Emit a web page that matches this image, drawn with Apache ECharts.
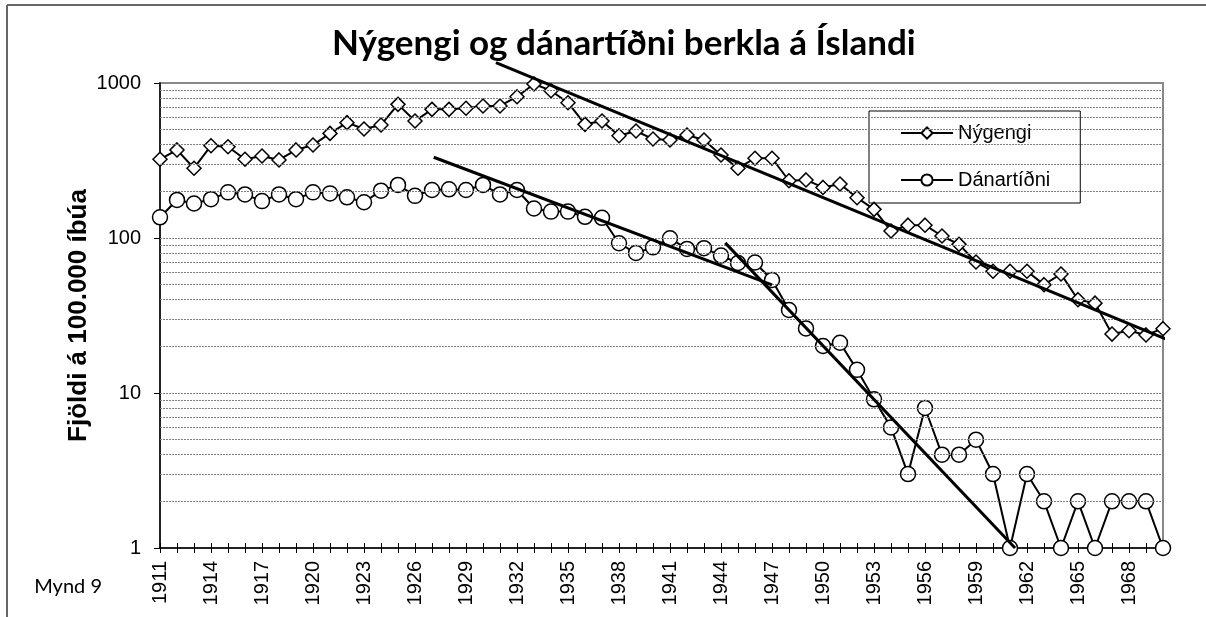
<!DOCTYPE html>
<html>
<head>
<meta charset="utf-8">
<script src="https://cdn.jsdelivr.net/npm/echarts@6/dist/echarts.min.js"></script>
<style>
  html, body { margin: 0; padding: 0; background: #fff; }
  #chart { width: 1206px; height: 617px; }
</style>
</head>
<body>
<div id="chart"></div>
<script>
// ár (flokkar)
var years = [1911,1912,1913,1914,1915,1916,1917,1918,1919,1920,
             1921,1922,1923,1924,1925,1926,1927,1928,1929,1930,
             1931,1932,1933,1934,1935,1936,1937,1938,1939,1940,
             1941,1942,1943,1944,1945,1946,1947,1948,1949,1950,
             1951,1952,1953,1954,1955,1956,1957,1958,1959,1960,
             1961,1962,1963,1964,1965,1966,1967,1968,1969,1970];

// Nýgengi á 100.000 íbúa
var nygengi = [322,370,282,394,388,322,338,319,370,398,
               473,555,505,536,728,569,676,676,687,711,
               711,816,985,892,746,541,569,457,490,435,
               429,462,429,343,282,327,327,234,237,212,
               223,182,153,111,121,121,103,91,70,61,
               61,61,50,58.6,40,38,24,25.2,23.7,26];

// Dánartíðni á 100.000 íbúa
var danartidni = [136,176,167,178,197,191,173,191,178,197,
                  194,183,170,202,220,187,204,206,204,220,
                  191,204,155,148,148,137,135,92.5,80,87,
                  99.5,85,86,77,69,69.5,53.6,34.3,26.1,20.1,
                  21.1,14.1,9.1,6,3,8,4,4,5,3,
                  1,3,2,1,2,1,2,2,2,1];

// leitnilínur (upphaf, endir)
var trendNygengi = [[1930.76, 1352], [1970.3, 22]];
var trendDanar1 = [[1927.1, 332], [1947.0, 49.8]];
var trendDanar2 = [[1944.25, 93], [1961.3, 1]];

// merkt ár á x-ás
var xTickYears = [1911,1914,1917,1920,1923,1926,1929,1932,1935,1938,
                  1941,1944,1947,1950,1953,1956,1959,1962,1965,1968];

var yMin = 1, yMax = 1000;

var gridValues = [];
[1, 10, 100].forEach(function (d) {
  for (var k = 2; k <= 10; k++) {
    if (k * d < yMax) gridValues.push(k * d);
  }
});

function pairs(xs, ys) {
  return xs.map(function (x, i) { return [x, ys[i]]; });
}

var font = '"Liberation Sans", Arial, sans-serif';

var chart = echarts.init(document.getElementById('chart'));
var option = {
  animation: false,
  backgroundColor: '#fff',
  title: {
    text: 'Nýgengi og dánartíðni berkla á Íslandi',
    left: 327,
    top: 21,
    textStyle: { fontFamily: 'Lato, sans-serif', fontWeight: 'bold', fontSize: 35, color: '#000' }
  },
  legend: {
    data: ['Nýgengi', 'Dánartíðni'],
    orient: 'vertical',
    left: 869,
    top: 111,
    padding: [12, 30, 13, 31],
    itemGap: 27,
    itemWidth: 52,
    itemHeight: 14,
    backgroundColor: '#fff',
    borderColor: '#000',
    borderWidth: 1,
    borderRadius: 0,
    textStyle: { fontFamily: font, fontSize: 20, color: '#000' }
  },
  grid: {
    left: 160, right: 43, top: 83, bottom: 69,
    show: true, borderColor: '#888', borderWidth: 2, backgroundColor: 'transparent'
  },
  graphic: [
    { type: 'line', shape: { x1: 7, y1: 5, x2: 7, y2: 617 }, style: { stroke: '#666', lineWidth: 2 } },
    { type: 'line', shape: { x1: 7, y1: 5, x2: 1206, y2: 5 }, style: { stroke: '#666', lineWidth: 2 } },
    {
      type: 'text', x: 102, y: 587,
      style: { text: 'Mynd 9', font: '20px Lato, sans-serif', fill: '#000', align: 'right', verticalAlign: 'middle' }
    }
  ],
  xAxis: [{
    type: 'value',
    min: 1911, max: 1970, interval: 1,
    axisLine: { lineStyle: { color: '#000', width: 1.5 } },
    axisTick: { show: true, inside: false, length: 5, lineStyle: { color: '#000' } },
    axisLabel: {
      rotate: 90, margin: 13, fontFamily: font, fontSize: 20, color: '#000',
      formatter: function (v) { return xTickYears.indexOf(v) >= 0 ? String(v) : ''; }
    },
    splitLine: { show: false }
  }, {
    type: 'value',
    position: 'bottom',
    min: 1911, max: 1970, interval: 1,
    axisLine: { show: false },
    axisTick: { show: true, inside: true, length: 5, lineStyle: { color: '#000' } },
    axisLabel: { show: false },
    splitLine: { show: false }
  }],
  yAxis: {
    type: 'log',
    logBase: 10,
    min: yMin, max: yMax,
    name: 'Fjöldi á 100.000 íbúa',
    nameLocation: 'middle',
    nameGap: 68,
    nameMoveOverlap: false,
    nameTextStyle: { fontFamily: font, fontWeight: 'bold', fontSize: 26, color: '#000' },
    axisLine: { show: true, lineStyle: { color: '#000', width: 1.5 } },
    axisTick: { show: true, length: 6, lineStyle: { color: '#000' } },
    axisLabel: {
      margin: 19, fontFamily: font, fontSize: 20, color: '#000',
      formatter: function (v) { return String(Math.round(v)); }
    },
    splitLine: { show: false }
  },
  series: [
    {
      name: 'grid',
      type: 'line',
      data: [],
      z: 1,
      silent: true,
      markLine: {
        silent: true,
        symbol: ['none', 'none'],
        label: { show: false },
        lineStyle: { color: '#808080', width: 1, type: [2, 1] },
        data: gridValues.map(function (v) { return { yAxis: v }; })
      }
    },
    {
      name: 'Nýgengi',
      type: 'line',
      data: pairs(years, nygengi),
      symbol: 'diamond',
      symbolSize: 14,
      z: 4,
      lineStyle: { color: '#000', width: 2 },
      itemStyle: { color: '#fff', borderColor: '#000', borderWidth: 1.5 }
    },
    {
      name: 'Dánartíðni',
      type: 'line',
      data: pairs(years, danartidni),
      symbol: 'circle',
      symbolSize: 15,
      z: 4,
      lineStyle: { color: '#000', width: 2 },
      itemStyle: { color: '#fff', borderColor: '#000', borderWidth: 1.5 }
    },
    {
      name: 'trend1', type: 'line', data: trendNygengi, symbol: 'none', clip: false, z: 5,
      lineStyle: { color: '#000', width: 3 }
    },
    {
      name: 'trend2', type: 'line', data: trendDanar1, symbol: 'none', clip: false, z: 5,
      lineStyle: { color: '#000', width: 3 }
    },
    {
      name: 'trend3', type: 'line', data: trendDanar2, symbol: 'none', clip: false, z: 5,
      lineStyle: { color: '#000', width: 3 }
    }
  ]
};
chart.setOption(option);
</script>
</body>
</html>
